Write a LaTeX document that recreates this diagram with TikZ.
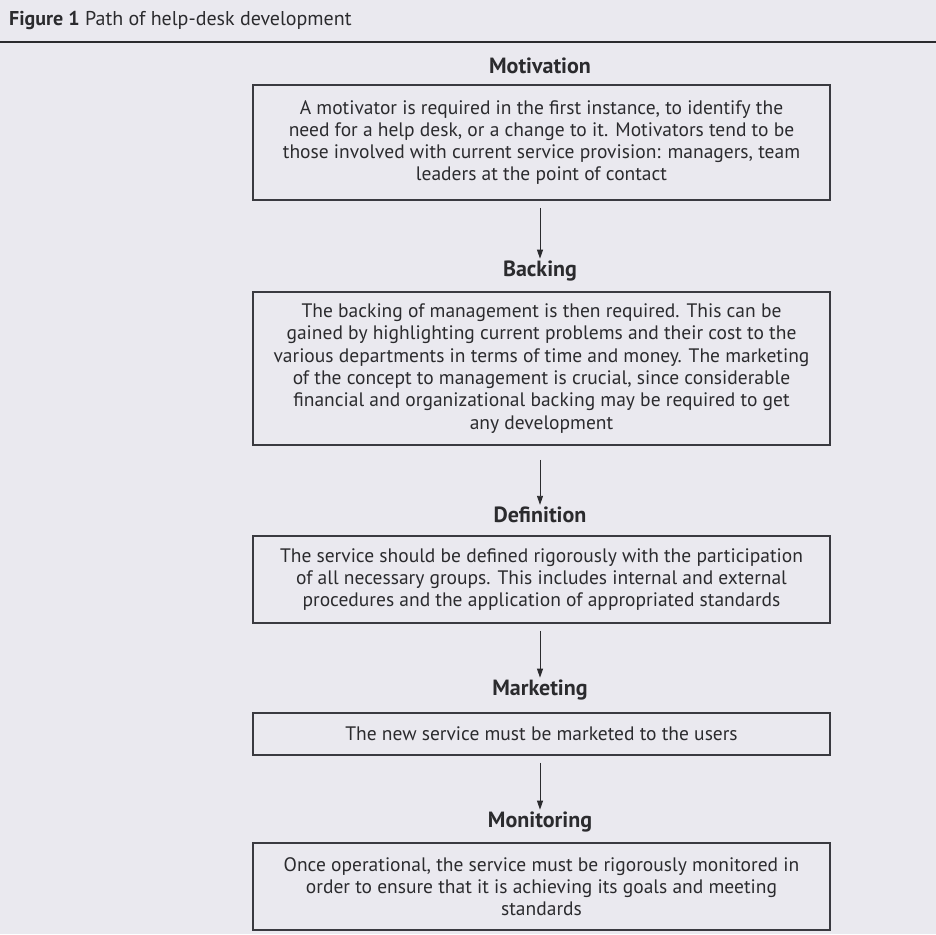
\documentclass[tikz,border=0pt]{standalone}
\usepackage{fontspec}
\setmainfont{PT Sans}
\usetikzlibrary{arrows.meta}
\definecolor{bgc}{HTML}{EAE9EF}
\definecolor{ink}{HTML}{2B2B2E}
\definecolor{boxline}{HTML}{3A3A40}
\tikzset{
  txtbox/.style={draw=boxline, line width=1.8pt, minimum width=577pt, align=center,
    inner sep=0pt, text=ink, font=\fontsize{19.5}{22.3}\selectfont},
  heading/.style={font=\bfseries\fontsize{22}{24}\selectfont, text=ink, inner sep=2pt},
  arr/.style={draw=ink, line width=0.9pt, -{Triangle[length=9pt,width=6pt]}}
}
\begin{document}
\begin{tikzpicture}[x=1pt,y=-1pt]
\fill[bgc] (0,0) rectangle (936,934);
\useasboundingbox (0,0) rectangle (936,934);
% title
\node[anchor=west, text=ink, font=\fontsize{20}{22}\selectfont, inner sep=0pt] (title) at (9,21)
  {\textbf{Figure 1} Path of help-desk development};
\coordinate (rl) at (0,42);
\coordinate (rr) at (936,42);
\draw[ink, line width=2.4pt] (rl) -- (rr);
% headings
\node[heading] (hm) at (540,66) {Motivation};
\node[heading] (hb) at (540,271) {Backing};
\node[heading] (hd) at (540,515) {Definition};
\node[heading] (hk) at (540,690) {Marketing};
\node[heading] (hn) at (540,822) {Monitoring};
% boxes
\node[txtbox, minimum height=115pt] (bm) at (541.5,142.5)
  {A motivator is required in the first instance, to identify the\\
   need for a help desk, or a change to it. Motivators tend to be\\
   those involved with current service provision: managers, team\\
   leaders at the point of contact};
\node[txtbox, minimum height=153pt] (bb) at (541.5,368.5)
  {The backing of management is then required. This can be\\
   gained by highlighting current problems and their cost to the\\
   various departments in terms of time and money. The marketing\\
   of the concept to management is crucial, since considerable\\
   financial and organizational backing may be required to get\\
   any development};
\node[txtbox, minimum height=87pt] (bd) at (541.5,579.5)
  {The service should be defined rigorously with the participation\\
   of all necessary groups. This includes internal and external\\
   procedures and the application of appropriated standards};
\node[txtbox, minimum height=42pt] (bk) at (541.5,734)
  {The new service must be marketed to the users};
\node[txtbox, minimum height=87pt] (bn) at (541.5,886.5)
  {Once operational, the service must be rigorously monitored in\\
   order to ensure that it is achieving its goals and meeting\\
   standards};
% arrows
\draw[arr] ([xshift=-1.5pt,yshift=-7pt]bm.south) -- (hb.north);
\draw[arr] ([xshift=-1.5pt,yshift=-14pt]bb.south) -- (hd.north);
\draw[arr] ([xshift=-1.5pt,yshift=-7pt]bd.south) -- (hk.north);
\draw[arr] ([xshift=-1.5pt,yshift=-7pt]bk.south) -- (hn.north);
\end{tikzpicture}
\end{document}
